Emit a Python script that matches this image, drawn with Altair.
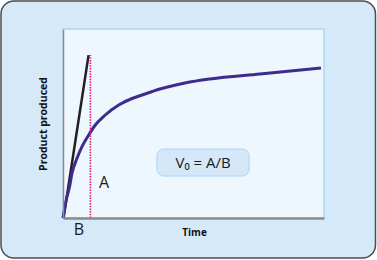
import altair as alt
import pandas as pd

# Curve: product produced over time (data units 0-100)
curve_time = [0, 1.15, 2.49, 3.45, 5.36, 7.28, 9.85, 12.38, 16.21, 21.34, 26.44, 30.27, 37.16, 46.74, 56.32, 75.48, 98.85]
curve_prod = [0, 8.99, 16.40, 23.65, 31.59, 37.72, 43.92, 49.21, 54.50, 59.79, 63.23, 65.08, 68.25, 71.43, 73.54, 76.19, 79.37]

# Initial-rate tangent line
tangent_time = [0.2, 9.8]
tangent_prod = [0, 86.2]

# Dotted marker at time B
marker_time = [10.5]
marker_top = [86.2]

# Annotation labels
label_text = ["A", "B"]
label_time = [15.7, 6.1]
label_prod = [18.3, -6.3]

# Formula box
box_text = ["V\u2080 = A/B"]
box_x1 = [36.0]
box_x2 = [71.3]
box_y1 = [22.2]
box_y2 = [36.5]

W, H = 261, 189

curve_df = pd.DataFrame({"t": curve_time, "p": curve_prod})
tan_df = pd.DataFrame({"t": tangent_time, "p": tangent_prod})
mark_df = pd.DataFrame({"t": marker_time, "p": [0], "p2": marker_top})
lab_df = pd.DataFrame({"txt": label_text, "t": label_time, "p": label_prod})
box_df = pd.DataFrame({"txt": box_text, "x1": box_x1, "x2": box_x2, "y1": box_y1, "y2": box_y2,
                       "xc": [(a + b) / 2 for a, b in zip(box_x1, box_x2)],
                       "yc": [(a + b) / 2 for a, b in zip(box_y1, box_y2)]})

xs = alt.Scale(domain=[0, 100], nice=False, zero=False)
ys = alt.Scale(domain=[0, 100], nice=False, zero=False)

FONT = "Open Sans"

x_axis = alt.Axis(title="Time", labels=False, ticks=False, grid=False, zindex=1,
                  domainColor="#8c8c8c", domainWidth=2.5,
                  titleFont=FONT, titleFontSize=10, titleFontWeight="bold", titleColor="#111111",
                  titleX=131, titleY=14, titleBaseline="middle", titleAlign="center")
y_axis = alt.Axis(title="Product produced", labels=False, ticks=False, grid=False, zindex=1,
                  domainColor="#8c8c8c", domainWidth=1.5,
                  titleFont=FONT, titleFontSize=10.5, titleFontWeight="bold", titleColor="#111111",
                  titleX=-20, titleY=94.5, titleBaseline="middle", titleAlign="center", titleAngle=-90)

frame = alt.Chart(pd.DataFrame({"a": [0]})).mark_rect(
    fill="#d5e9f9", stroke="#4d4d4d", strokeWidth=1.5, cornerRadius=13
).encode(x=alt.value(-62), x2=alt.value(312.5), y=alt.value(-28), y2=alt.value(229))

plot_bg = alt.Chart(pd.DataFrame({"a": [0]})).mark_rect(
    fill="#eef6fe", stroke="#acd8f4", strokeWidth=1.5
).encode(x=alt.value(0), x2=alt.value(W), y=alt.value(0), y2=alt.value(H))

curve = alt.Chart(curve_df).mark_line(color="#3d2b8e", strokeWidth=3, interpolate="monotone").encode(
    x=alt.X("t:Q", scale=xs, axis=x_axis),
    y=alt.Y("p:Q", scale=ys, axis=y_axis),
)

tangent = alt.Chart(tan_df).mark_line(color="#231f20", strokeWidth=2.5).encode(
    x=alt.X("t:Q", scale=xs), y=alt.Y("p:Q", scale=ys)
)

marker = alt.Chart(mark_df).mark_rule(color="#e6157a", strokeWidth=1.6, strokeDash=[1.5, 1.2]).encode(
    x=alt.X("t:Q", scale=xs), y=alt.Y("p:Q", scale=ys), y2="p2:Q"
)

labels = alt.Chart(lab_df).mark_text(font=FONT, fontSize=16, color="#1a1a1a").encode(
    x=alt.X("t:Q", scale=xs), y=alt.Y("p:Q", scale=ys), text="txt:N"
)

box = alt.Chart(box_df).mark_rect(fill="#d4e8fa", stroke="#aad6f5", strokeWidth=1, cornerRadius=7).encode(
    x=alt.X("x1:Q", scale=xs), x2="x2:Q", y=alt.Y("y1:Q", scale=ys), y2="y2:Q"
)
box_txt = alt.Chart(box_df).mark_text(font=FONT, fontSize=15, color="#1a1a1a").encode(
    x=alt.X("xc:Q", scale=xs), y=alt.Y("yc:Q", scale=ys), text="txt:N"
)

chart = alt.layer(frame, plot_bg, tangent, curve, marker, labels, box, box_txt).properties(
    width=W, height=H,
    autosize=alt.AutoSizeParams(type="none"),
    padding={"left": 63, "top": 29, "right": 53, "bottom": 42},
    background="white",
).configure_view(stroke=None)

chart.save("out.html", embed_options={"renderer": "svg", "actions": False})
